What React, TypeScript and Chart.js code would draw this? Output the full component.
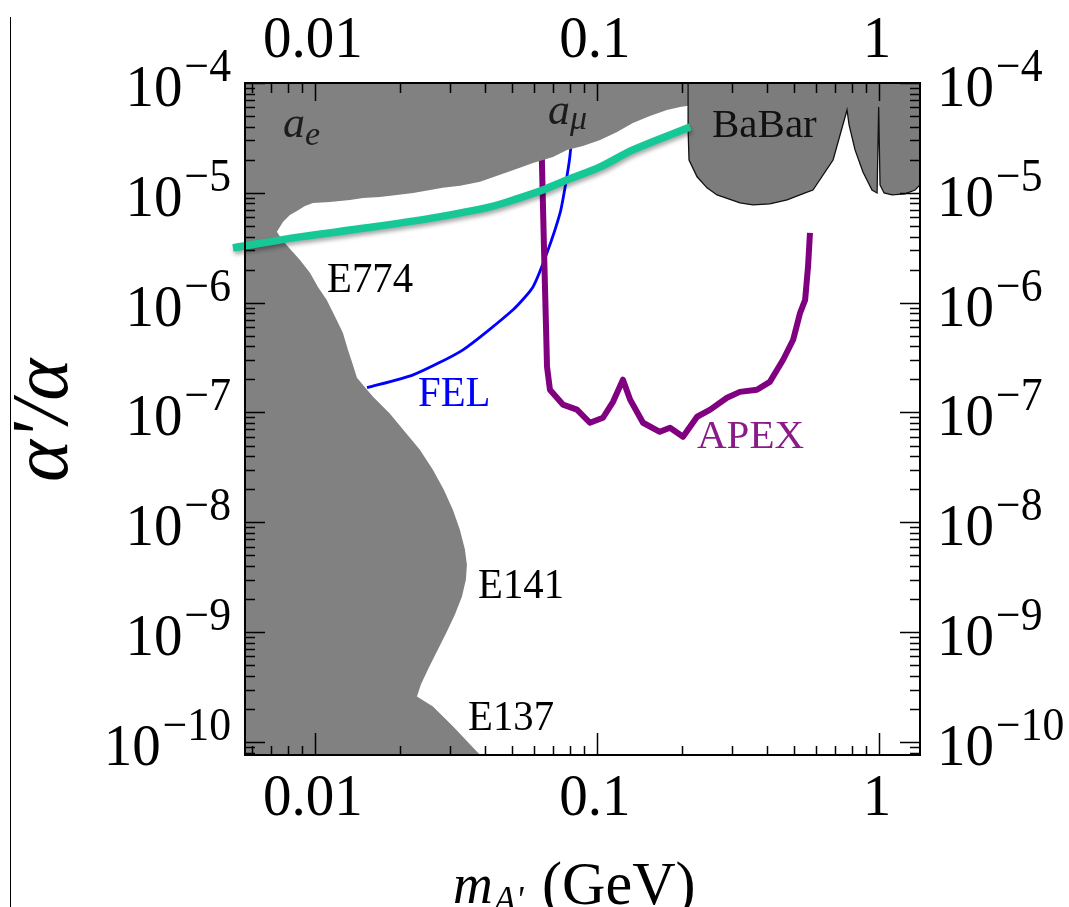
import { useEffect, useRef } from "react";
import { Chart, registerables } from "chart.js";

Chart.register(...registerables);

// ---- axis ranges (GeV, alpha'/alpha) ----
const X_MIN = 0.00565;
const X_MAX = 1.397;
const Y_MIN = 7.6e-11;
const Y_MAX = 1e-4;

// ---- tick labels ----
const xTickValues = [0.01, 0.1, 1];
const xTickLabels = ["0.01", "0.1", "1"];
const yTickExponents = [-4, -5, -6, -7, -8, -9, -10];

// ---- excluded region (a_e, a_mu, E774, E141, E137), boundary traced from bottom-left ----
const excludedX = [
  0.00565, 0.0385, 0.0309, 0.0262, 0.023, 0.02375, 0.02535, 0.02729, 0.02937, 0.03133,
  0.03319, 0.03429, 0.03458, 0.03402, 0.03265, 0.03083, 0.02864, 0.02619, 0.02355, 0.02084,
  0.01845, 0.01607, 0.0153, 0.01409, 0.01363, 0.01309, 0.01256, 0.0116, 0.011, 0.01025,
  0.0096, 0.00885, 0.00815, 0.00764, 0.00733, 0.0077, 0.00815, 0.00863, 0.00922, 0.00984,
  0.0113, 0.0133, 0.0148, 0.017, 0.0195, 0.0223, 0.0256, 0.0284, 0.0327, 0.0385,
  0.0453, 0.0533, 0.0593, 0.0698, 0.0783, 0.0891, 0.1026, 0.1178, 0.134, 0.154,
  0.177, 0.197, 0.2104,
];
const excludedY = [
  7.6e-11, 7.6e-11, 1.38e-10, 2.1e-10, 2.59e-10, 3.33e-10, 4.75e-10, 6.93e-10, 1.01e-9, 1.44e-9,
  2.1e-9, 3.0e-9, 4.11e-9, 5.64e-9, 8.57e-9, 1.3e-8, 1.98e-8, 3.01e-8, 4.58e-8, 6.67e-8,
  9.72e-8, 1.39e-7, 1.61e-7, 2.07e-7, 2.72e-7, 3.72e-7, 5.31e-7, 8.07e-7, 1.06e-6, 1.39e-6,
  1.87e-6, 2.45e-6, 3.09e-6, 3.73e-6, 4.41e-6, 5.43e-6, 6.29e-6, 6.84e-6, 7.6e-6, 8.09e-6,
  8.26e-6, 8.61e-6, 8.99e-6, 9.18e-6, 9.57e-6, 9.97e-6, 1.06e-5, 1.11e-5, 1.16e-5, 1.26e-5,
  1.46e-5, 1.69e-5, 1.87e-5, 2.12e-5, 2.46e-5, 2.67e-5, 3.03e-5, 3.58e-5, 4.33e-5, 5.01e-5,
  5.68e-5, 6.05e-5, 6.2e-5,
];

// ---- BaBar excluded region ----
const babarX = [
  0.2104, 0.2104, 0.212, 0.2264, 0.2455, 0.2665, 0.3215, 0.357, 0.41, 0.472,
  0.547, 0.583, 0.687, 0.77, 0.783, 0.822, 0.877, 0.944, 0.984, 0.997,
  1.008, 1.042, 1.112, 1.236, 1.342, 1.397,
];
const babarY = [
  1e-4, 3.73e-5, 1.99e-5, 1.4e-5, 1.11e-5, 9.57e-6, 8.09e-6, 7.76e-6, 7.92e-6, 8.61e-6,
  9.97e-6, 1.06e-5, 1.99e-5, 5.68e-5, 4.15e-5, 2.46e-5, 1.55e-5, 1.06e-5, 9.97e-6, 6.05e-5,
  1.18e-5, 9.97e-6, 9.57e-6, 9.77e-6, 1.06e-5, 1.18e-5,
];

// ---- FEL projected reach ----
const felX = [0.0153, 0.0223, 0.0335, 0.0504, 0.0593, 0.0665, 0.074, 0.0771, 0.0801, 0.0849];
const felY = [1.68e-7, 2.2e-7, 3.72e-7, 8.61e-7, 1.39e-6, 2.84e-6, 6.56e-6, 1.13e-5, 2.12e-5, 1e-4];

// ---- APEX projected reach ----
const apexX = [
  0.0632, 0.0638, 0.0649, 0.066, 0.0665, 0.0681, 0.0757, 0.0849, 0.0944, 0.105,
  0.114, 0.1236, 0.131, 0.1456, 0.167, 0.1815, 0.2018, 0.2264, 0.252, 0.289,
  0.321, 0.369, 0.41, 0.457, 0.496, 0.525, 0.547, 0.56, 0.569,
];
const apexY = [
  1e-4, 1.87e-5, 3.02e-6, 5.66e-7, 2.61e-7, 1.61e-7, 1.18e-7, 1.06e-7, 8.06e-8, 8.95e-8,
  1.25e-7, 1.99e-7, 1.31e-7, 8.06e-8, 6.67e-8, 7.26e-8, 6.01e-8, 9.14e-8, 1.06e-7, 1.36e-7,
  1.54e-7, 1.61e-7, 1.9e-7, 3.02e-7, 4.59e-7, 8.07e-7, 1.06e-6, 2.12e-6, 4.32e-6,
];

// ---- (g-2)_mu favoured band (green) ----
const gm2X = [0.00512, 0.00885, 0.0153, 0.0262, 0.0418, 0.0533, 0.0642, 0.0783, 0.1026, 0.134, 0.214];
const gm2Y = [3.15e-6, 3.97e-6, 4.8e-6, 5.92e-6, 7.45e-6, 9.0e-6, 1.06e-5, 1.31e-5, 1.72e-5, 2.46e-5, 3.98e-5];

const zip = (xs: number[], ys: number[]) => xs.map((x, i) => ({ x, y: ys[i] }));

const SERIF = '"Liberation Serif", "DejaVu Serif", serif';
const GRAY = "rgb(129,129,129)";
const GREEN_INDEX = 0;

function drawText(
  ctx: CanvasRenderingContext2D,
  s: string,
  x: number,
  y: number,
  font: string,
  align: "left" | "center" | "right" = "left",
  sx = 1,
  color = "#000"
) {
  ctx.save();
  ctx.font = font;
  const w = ctx.measureText(s).width * sx;
  const x0 = align === "left" ? x : align === "center" ? x - w / 2 : x - w;
  ctx.translate(x0, y);
  ctx.scale(sx, 1);
  ctx.textAlign = "left";
  ctx.textBaseline = "alphabetic";
  ctx.fillStyle = color;
  ctx.fillText(s, 0, 0);
  ctx.restore();
  return w;
}

function measure(ctx: CanvasRenderingContext2D, s: string, font: string, sx = 1) {
  ctx.save();
  ctx.font = font;
  const w = ctx.measureText(s).width * sx;
  ctx.restore();
  return w;
}

const BASE_FONT = `60px ${SERIF}`;
const SUP_FONT = `46px ${SERIF}`;
const SX = 0.95;

function drawPow(ctx: CanvasRenderingContext2D, exp: number, x: number, yTick: number, align: "left" | "right") {
  const base = "10";
  const sup = "\u2212" + String(Math.abs(exp));
  const wb = measure(ctx, base, BASE_FONT, SX);
  const ws = measure(ctx, sup, SUP_FONT, SX);
  const total = wb + 2 + ws;
  const x0 = align === "left" ? x : x - total;
  drawText(ctx, base, x0, yTick + 23, BASE_FONT, "left", SX);
  drawText(ctx, sup, x0 + wb + 2, yTick - 2, SUP_FONT, "left", SX);
}

const overlayPlugin = {
  id: "overlay",
  beforeDatasetDraw(chart: any, args: any) {
    if (args.index === GREEN_INDEX) {
      const ctx = chart.ctx;
      ctx.save();
      ctx.shadowColor = "rgba(0,0,0,0.35)";
      ctx.shadowBlur = 4;
      ctx.shadowOffsetX = 1;
      ctx.shadowOffsetY = 3;
    }
  },
  afterDatasetDraw(chart: any, args: any) {
    if (args.index === GREEN_INDEX) chart.ctx.restore();
  },
  afterDraw(chart: any) {
    const ctx: CanvasRenderingContext2D = chart.ctx;
    const xs = chart.scales.x;
    const ys = chart.scales.y;
    const { left, right, top, bottom } = chart.chartArea;

    ctx.save();
    // tick marks (inward, all four sides)
    ctx.strokeStyle = "#000";
    ctx.lineWidth = 1.5;
    ctx.beginPath();
    for (let e = -3; e <= 0; e++) {
      for (let m = 1; m <= 9; m++) {
        const v = m * Math.pow(10, e);
        if (v < X_MIN || v > X_MAX) continue;
        const px = Math.round(xs.getPixelForValue(v)) + 0.5;
        const lenT = m === 1 ? 18 : 10;
        const lenB = m === 1 ? 22 : 9;
        ctx.moveTo(px, top);
        ctx.lineTo(px, top + lenT);
        ctx.moveTo(px, bottom);
        ctx.lineTo(px, bottom - lenB);
      }
    }
    for (let e = -11; e <= -4; e++) {
      for (let m = 1; m <= 9; m++) {
        const v = m * Math.pow(10, e);
        if (v < Y_MIN || v > Y_MAX * 1.0001) continue;
        const py = Math.round(ys.getPixelForValue(v)) + 0.5;
        const len = m === 1 ? 20 : 10;
        ctx.moveTo(left, py);
        ctx.lineTo(left + len, py);
        ctx.moveTo(right, py);
        ctx.lineTo(right - len, py);
      }
    }
    ctx.stroke();

    // frame
    ctx.lineWidth = 2;
    ctx.strokeRect(left, top, right - left, bottom - top);

    // page edge line at the left
    ctx.lineWidth = 1;
    ctx.beginPath();
    ctx.moveTo(10.5, 17);
    ctx.lineTo(10.5, 907);
    ctx.stroke();

    // x tick labels, top and bottom
    xTickValues.forEach((v, i) => {
      const px = xs.getPixelForValue(v);
      drawText(ctx, xTickLabels[i], px - 2, 57, BASE_FONT, "center", SX);
      drawText(ctx, xTickLabels[i], px - 2, 815, BASE_FONT, "center", SX);
    });

    // y tick labels, left and right
    yTickExponents.forEach((e) => {
      const py = ys.getPixelForValue(Math.pow(10, e));
      drawPow(ctx, e, 231, py, "right");
      drawPow(ctx, e, 937, py, "left");
    });

    // x axis title: m_A' (GeV)
    const wm = drawText(ctx, "m", 453, 903, `italic 58px ${SERIF}`, "left", 0.95);
    drawText(ctx, "A'", 453 + wm + 1, 912, `italic 38px ${SERIF}`, "left", 0.95);
    drawText(ctx, "(GeV)", 542, 904, `62px ${SERIF}`, "left", 0.97);

    // y axis title: alpha'/alpha (rotated)
    ctx.save();
    ctx.translate(67, 482);
    ctx.rotate(-Math.PI / 2);
    ctx.font = `italic 80px ${SERIF}`;
    ctx.fillStyle = "#000";
    ctx.textAlign = "left";
    ctx.textBaseline = "alphabetic";
    ctx.fillText("\u03b1'/\u03b1", 0, 0);
    ctx.restore();

    // region labels
    const dark = "#1c1c1c";
    const wa = drawText(ctx, "a", 283, 137, `italic 44px ${SERIF}`, "left", 1, dark);
    drawText(ctx, "e", 283 + wa, 145, `italic 34px ${SERIF}`, "left", 1, dark);
    const wa2 = drawText(ctx, "a", 548, 124, `italic 44px ${SERIF}`, "left", 1, dark);
    drawText(ctx, "\u03bc", 548 + wa2, 129, `italic 34px ${SERIF}`, "left", 1, dark);
    drawText(ctx, "BaBar", 712, 137, `41px ${SERIF}`, "left", 1, "#111");
    drawText(ctx, "E774", 327, 292, `42px ${SERIF}`, "left", 0.97);
    drawText(ctx, "FEL", 418, 406, `42px ${SERIF}`, "left", 0.97, "#0000ff");
    drawText(ctx, "E141", 478, 598, `42px ${SERIF}`, "left", 0.97);
    drawText(ctx, "E137", 468, 730, `42px ${SERIF}`, "left", 0.97);
    drawText(ctx, "APEX", 697, 448, `41px ${SERIF}`, "left", 1, "#8a1a8a");
    ctx.restore();
  },
};

export default function App() {
  const canvasRef = useRef<HTMLCanvasElement | null>(null);

  useEffect(() => {
    const canvas = canvasRef.current;
    if (!canvas) return;
    const chart = new Chart(canvas, {
      type: "scatter",
      data: {
        datasets: [
          {
            label: "(g-2)μ band",
            data: zip(gm2X, gm2Y),
            showLine: true,
            borderColor: "rgb(22,200,150)",
            borderWidth: 7.5,
            borderCapStyle: "butt",
            pointRadius: 0,
            tension: 0.35,
            fill: false,
            clip: false as any,
            order: 0,
          },
          {
            label: "BaBar",
            data: zip(babarX, babarY),
            showLine: true,
            borderColor: "#111",
            borderWidth: 1.3,
            backgroundColor: "rgb(124,124,124)",
            pointRadius: 0,
            tension: 0,
            fill: "end",
            order: 1,
          },
          {
            label: "excluded",
            data: zip(excludedX, excludedY),
            showLine: true,
            borderWidth: 0,
            borderColor: GRAY,
            backgroundColor: GRAY,
            pointRadius: 0,
            tension: 0,
            fill: "end",
            order: 2,
          },
          {
            label: "APEX",
            data: zip(apexX, apexY),
            showLine: true,
            borderColor: "rgb(128,0,128)",
            borderWidth: 6,
            pointRadius: 0,
            tension: 0,
            borderJoinStyle: "round",
            fill: false,
            order: 3,
          },
          {
            label: "FEL",
            data: zip(felX, felY),
            showLine: true,
            borderColor: "#0000ff",
            borderWidth: 2.8,
            pointRadius: 0,
            tension: 0.2,
            fill: false,
            order: 4,
          },
        ],
      },
      options: {
        animation: false,
        responsive: false,
        devicePixelRatio: 1,
        layout: { padding: { left: 245, right: 149, top: 83, bottom: 152 } },
        plugins: { legend: { display: false }, tooltip: { enabled: false } },
        events: [],
        scales: {
          x: { type: "logarithmic", min: X_MIN, max: X_MAX, display: false },
          y: { type: "logarithmic", min: Y_MIN, max: Y_MAX, display: false },
        },
      },
      plugins: [overlayPlugin],
    });
    return () => chart.destroy();
  }, []);

  return (
    <div style={{ position: "fixed", left: 0, top: 0, width: 1069, height: 907, background: "#fff" }}>
      <canvas ref={canvasRef} width={1069} height={907} style={{ width: 1069, height: 907, display: "block" }} />
    </div>
  );
}
